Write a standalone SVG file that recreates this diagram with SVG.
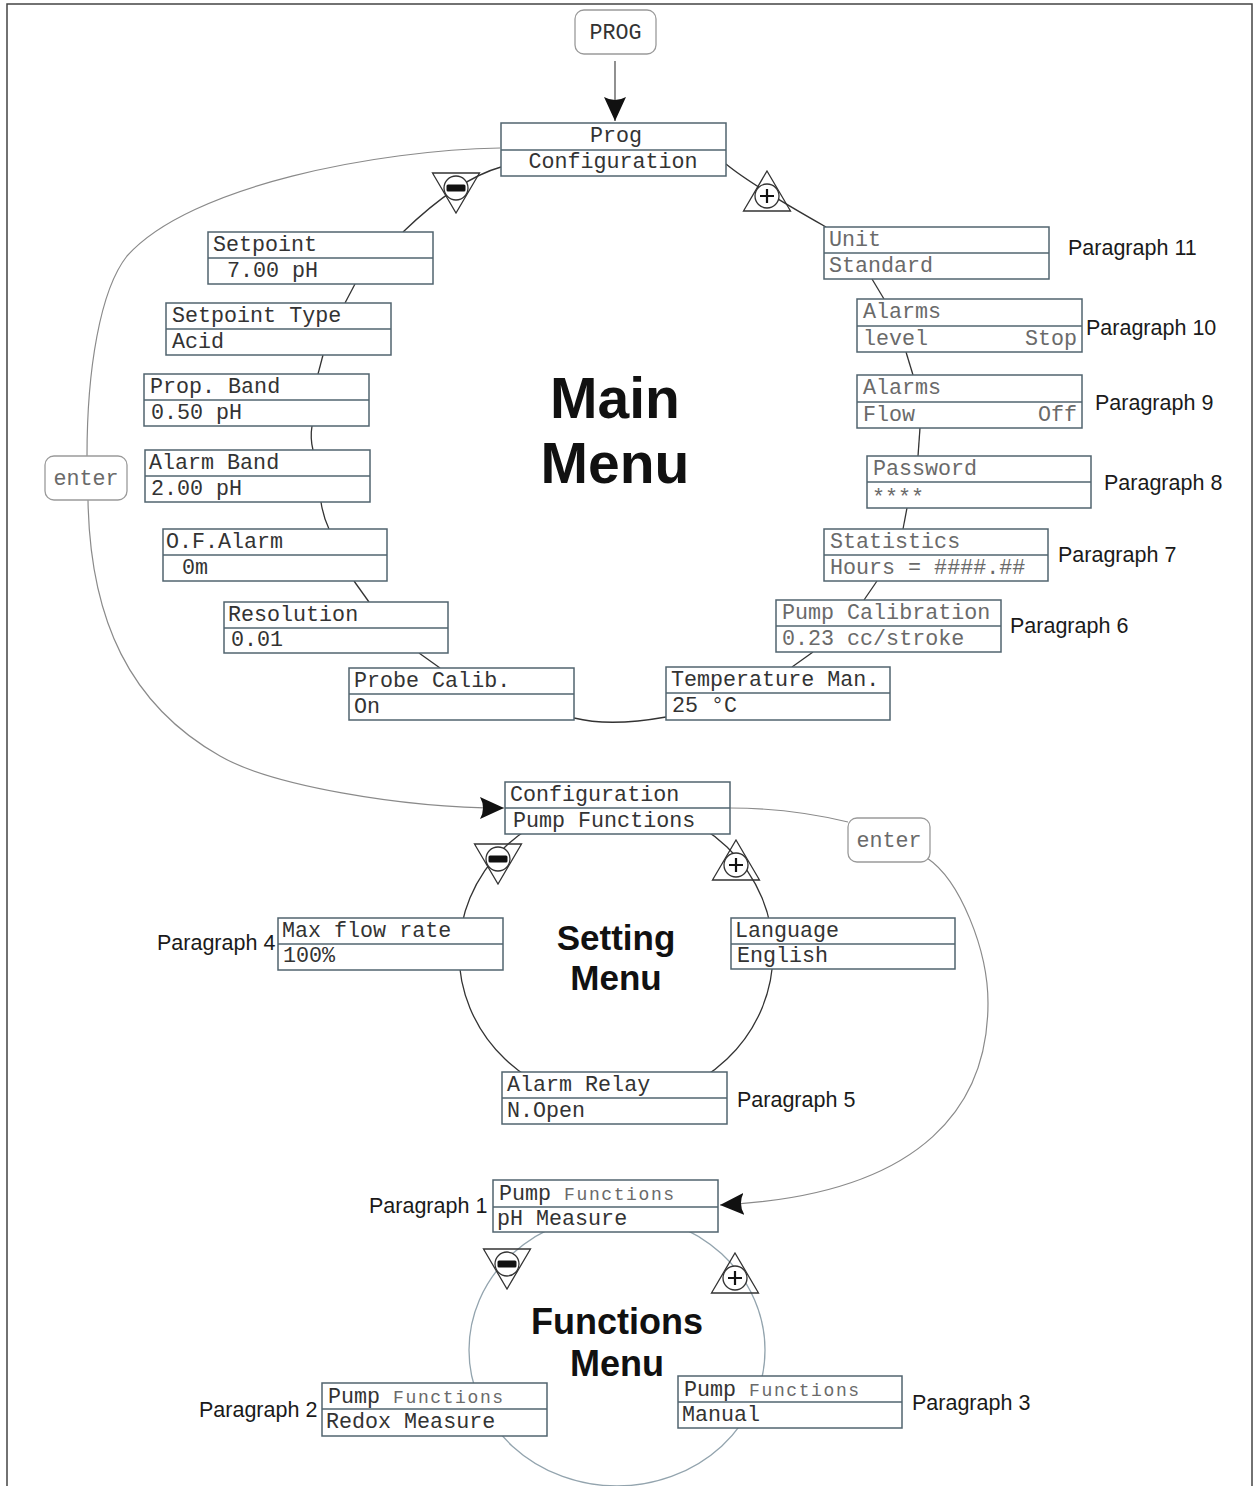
<svg xmlns="http://www.w3.org/2000/svg" xmlns:xlink="http://www.w3.org/1999/xlink" width="1255" height="1486" viewBox="0 0 1255 1486">
<style>
.box{fill:#fff;stroke:#51646f;stroke-width:1.5}
.div{stroke:#51646f;stroke-width:1.5}
.t{font-family:"Liberation Mono","Courier New",monospace;font-size:21.7px;fill:#333}
.tl{fill:#6a6a6a}
.small{font-size:18px;letter-spacing:1.6px;fill:#6a6a6a}
.para{font-family:"Liberation Sans",Arial,sans-serif;font-size:21.5px;fill:#1a1a1a}
.title{font-family:"Liberation Sans",Arial,sans-serif;font-weight:bold;fill:#111;text-anchor:middle}
.loop{fill:none;stroke:#333;stroke-width:1.3}
.floop{fill:none;stroke:#93a4ae;stroke-width:1.3}
.enter{fill:none;stroke:#8a8a8a;stroke-width:1.2}
.key{fill:#fff;stroke:#9a9a9a;stroke-width:1.3}
.tri{fill:none;stroke:#333;stroke-width:1.3}
.btn{fill:#fff;stroke:#333;stroke-width:1.3}
.frame{fill:none;stroke:#444;stroke-width:1.5}
</style>
<defs>
<marker id="arr" markerUnits="userSpaceOnUse" markerWidth="25" markerHeight="22" viewBox="0 0 25 22" refX="24" refY="11" orient="auto">
<path d="M0,0 L24,11 L0,22 Q6,11 0,0 Z" fill="#111"/>
</marker>
<g id="minus">
<path class="tri" d="M-23.5,-15 L23.5,-15 L0,25 Z"/>
<circle class="btn" cx="0" cy="0" r="12"/>
<rect x="-9.5" y="-3.5" width="19" height="7" rx="1.5" fill="#111"/>
</g>
<g id="plus">
<path class="tri" d="M0,-25 L23.5,15 L-23.5,15 Z"/>
<circle class="btn" cx="0" cy="0" r="12"/>
<path d="M-7,0 H7 M0,-7 V7" stroke="#111" stroke-width="2.2"/>
</g>
</defs>
<rect x="0" y="0" width="1255" height="1486" fill="#fff"/>
<path class="frame" d="M7,1486 V4 H1252 V1486"/>

<g id="connectors">
<line x1="615" y1="61" x2="615" y2="121" stroke="#555" stroke-width="1.3" marker-end="url(#arr)"/>
<path class="loop" d="M501,167 Q458,179 403,232"/>
<path class="loop" d="M726,164 Q750,184 826,227"/>
<path class="loop" d="M355,284 L345,303"/>
<path class="loop" d="M323,355 L318,374"/>
<path class="loop" d="M312,426 Q310,438 313,450"/>
<path class="loop" d="M321,502 Q323,516 329,529"/>
<path class="loop" d="M354,581 L369,602"/>
<path class="loop" d="M419,653 L440,668"/>
<path class="loop" d="M574,718 Q610,727 666,717"/>
<path class="loop" d="M872,279 L884,299"/>
<path class="loop" d="M906,352 L913,375"/>
<path class="loop" d="M920,428 L918,456"/>
<path class="loop" d="M907,508 L903,529"/>
<path class="loop" d="M877,581 L864,600"/>
<path class="loop" d="M813,652 L792,667"/>
<path class="enter" d="M500,148 C380,150 190,185 127,256 C100,290 87,370 87,456"/>
<path class="enter" d="M88,500 C90,620 130,705 220,756 C270,785 400,808 504,808" marker-end="url(#arr)"/>
<path class="enter" d="M730,808 Q790,808 848,822"/>
<path class="enter" d="M927,858 C960,880 988,950 988,1003 C988,1100 930,1195 720,1205" marker-end="url(#arr)"/>
<ellipse class="loop" cx="616" cy="953" rx="157" ry="150"/>
<ellipse class="floop" cx="617" cy="1350" rx="148" ry="136"/>
<use xlink:href="#minus" href="#minus" x="456" y="188"/>
<use xlink:href="#plus" href="#plus" x="767" y="196"/>
<use xlink:href="#minus" href="#minus" x="498" y="859"/>
<use xlink:href="#plus" href="#plus" x="736" y="865"/>
<use xlink:href="#minus" href="#minus" x="507" y="1264"/>
<use xlink:href="#plus" href="#plus" x="735" y="1278"/>
</g>

<g id="labels">
<text class="title" x="615" y="418" font-size="57">Main</text>
<text class="title" x="615" y="483" font-size="57">Menu</text>
<text class="title" x="616" y="950" font-size="35">Setting</text>
<text class="title" x="616" y="990" font-size="35">Menu</text>
<text class="title" x="617" y="1334" font-size="36">Functions</text>
<text class="title" x="617" y="1376" font-size="36">Menu</text>
</g>

<g id="n-prog-key"><rect class="key" x="575" y="10" width="81" height="44" rx="9"/><text class="t" x="615.5" y="39" text-anchor="middle" fill="#444">PROG</text></g>
<g id="n-enter-left"><rect class="key" x="45" y="456" width="82" height="44" rx="9"/><text class="t tl" x="86" y="485" text-anchor="middle">enter</text></g>
<g id="n-enter-right"><rect class="key" x="848" y="818" width="82" height="44" rx="9"/><text class="t tl" x="889" y="847" text-anchor="middle">enter</text></g>

<g id="n-prog"><rect class="box" x="501" y="123" width="225" height="53"/><line class="div" x1="501" y1="150" x2="726" y2="150"/><text class="t" x="616" y="142" text-anchor="middle">Prog</text><text class="t" x="613" y="168" text-anchor="middle">Configuration</text></g>

<g id="n-setpoint"><rect class="box" x="208" y="232" width="225" height="52"/><line class="div" x1="208" y1="258" x2="433" y2="258"/><text class="t" x="213" y="251">Setpoint</text><text class="t" x="227" y="277">7.00 pH</text></g>
<g id="n-setpoint-type"><rect class="box" x="166" y="303" width="225" height="52"/><line class="div" x1="166" y1="329" x2="391" y2="329"/><text class="t" x="172" y="322">Setpoint Type</text><text class="t" x="172" y="348">Acid</text></g>
<g id="n-prop-band"><rect class="box" x="144" y="374" width="225" height="52"/><line class="div" x1="144" y1="400" x2="369" y2="400"/><text class="t" x="150" y="393">Prop. Band</text><text class="t" x="151" y="419">0.50 pH</text></g>
<g id="n-alarm-band"><rect class="box" x="145" y="450" width="225" height="52"/><line class="div" x1="145" y1="476" x2="370" y2="476"/><text class="t" x="149" y="469">Alarm Band</text><text class="t" x="151" y="495">2.00 pH</text></g>
<g id="n-of-alarm"><rect class="box" x="163" y="529" width="224" height="52"/><line class="div" x1="163" y1="555" x2="387" y2="555"/><text class="t" x="166" y="548">O.F.Alarm</text><text class="t" x="182" y="574">0m</text></g>
<g id="n-resolution"><rect class="box" x="224" y="602" width="224" height="51"/><line class="div" x1="224" y1="628" x2="448" y2="628"/><text class="t" x="228" y="621">Resolution</text><text class="t" x="231" y="646">0.01</text></g>
<g id="n-probe"><rect class="box" x="349" y="668" width="225" height="52"/><line class="div" x1="349" y1="694" x2="574" y2="694"/><text class="t" x="354" y="687">Probe Calib.</text><text class="t" x="354" y="713">On</text></g>
<g id="n-temperature"><rect class="box" x="666" y="667" width="224" height="53"/><line class="div" x1="666" y1="693" x2="890" y2="693"/><text class="t" x="671" y="686">Temperature Man.</text><text class="t" x="672" y="712">25 °C</text></g>
<g id="n-pump-cal"><rect class="box" x="776" y="600" width="225" height="52"/><line class="div" x1="776" y1="626" x2="1001" y2="626"/><text class="t tl" x="782" y="619">Pump Calibration</text><text class="t tl" x="782" y="645">0.23 cc/stroke</text><text class="para" x="1010" y="633">Paragraph 6</text></g>
<g id="n-statistics"><rect class="box" x="824" y="529" width="224" height="52"/><line class="div" x1="824" y1="555" x2="1048" y2="555"/><text class="t tl" x="830" y="548">Statistics</text><text class="t tl" x="830" y="574">Hours = ####.##</text><text class="para" x="1058" y="562">Paragraph 7</text></g>
<g id="n-password"><rect class="box" x="867" y="456" width="224" height="52"/><line class="div" x1="867" y1="482" x2="1091" y2="482"/><text class="t tl" x="873" y="475">Password</text><text class="t tl" x="872" y="504" font-size="16">****</text><text class="para" x="1104" y="490">Paragraph 8</text></g>
<g id="n-alarms-flow"><rect class="box" x="857" y="375" width="225" height="53"/><line class="div" x1="857" y1="402" x2="1082" y2="402"/><text class="t tl" x="863" y="394">Alarms</text><text class="t tl" x="863" y="421">Flow</text><text class="t tl" x="1077" y="421" text-anchor="end">Off</text><text class="para" x="1095" y="410">Paragraph 9</text></g>
<g id="n-alarms-level"><rect class="box" x="857" y="299" width="225" height="53"/><line class="div" x1="857" y1="326" x2="1082" y2="326"/><text class="t tl" x="863" y="318">Alarms</text><text class="t tl" x="863" y="345">level</text><text class="t tl" x="1077" y="345" text-anchor="end">Stop</text><text class="para" x="1086" y="335">Paragraph 10</text></g>
<g id="n-unit"><rect class="box" x="824" y="227" width="225" height="52"/><line class="div" x1="824" y1="253" x2="1049" y2="253"/><text class="t tl" x="829" y="246">Unit</text><text class="t tl" x="829" y="272">Standard</text><text class="para" x="1068" y="255">Paragraph 11</text></g>

<g id="n-config"><rect class="box" x="505" y="782" width="225" height="52"/><line class="div" x1="505" y1="808" x2="730" y2="808"/><text class="t" x="510" y="801">Configuration</text><text class="t" x="513" y="827">Pump Functions</text></g>
<g id="n-max-flow"><rect class="box" x="278" y="918" width="225" height="52"/><line class="div" x1="278" y1="944" x2="503" y2="944"/><text class="t" x="282" y="937">Max flow rate</text><text class="t" x="283" y="962">100%</text><text class="para" x="157" y="950">Paragraph 4</text></g>
<g id="n-language"><rect class="box" x="731" y="918" width="224" height="51"/><line class="div" x1="731" y1="944" x2="955" y2="944"/><text class="t" x="735" y="937">Language</text><text class="t" x="737" y="962">English</text></g>
<g id="n-alarm-relay"><rect class="box" x="502" y="1072" width="225" height="52"/><line class="div" x1="502" y1="1098" x2="727" y2="1098"/><text class="t" x="507" y="1091">Alarm Relay</text><text class="t" x="507" y="1117">N.Open</text><text class="para" x="737" y="1107">Paragraph 5</text></g>

<g id="n-ph-measure"><rect class="box" x="493" y="1180" width="225" height="52"/><line class="div" x1="493" y1="1207" x2="718" y2="1207"/><text class="t" x="499" y="1200">Pump <tspan class="small">Functions</tspan></text><text class="t" x="497" y="1225">pH Measure</text><text class="para" x="369" y="1213">Paragraph 1</text></g>
<g id="n-redox"><rect class="box" x="322" y="1383" width="225" height="53"/><line class="div" x1="322" y1="1409" x2="547" y2="1409"/><text class="t" x="328" y="1403">Pump <tspan class="small">Functions</tspan></text><text class="t" x="326" y="1428">Redox Measure</text><text class="para" x="199" y="1417">Paragraph 2</text></g>
<g id="n-manual"><rect class="box" x="678" y="1376" width="224" height="52"/><line class="div" x1="678" y1="1402" x2="902" y2="1402"/><text class="t" x="684" y="1396">Pump <tspan class="small">Functions</tspan></text><text class="t" x="682" y="1421">Manual</text><text class="para" x="912" y="1410">Paragraph 3</text></g>
</svg>
